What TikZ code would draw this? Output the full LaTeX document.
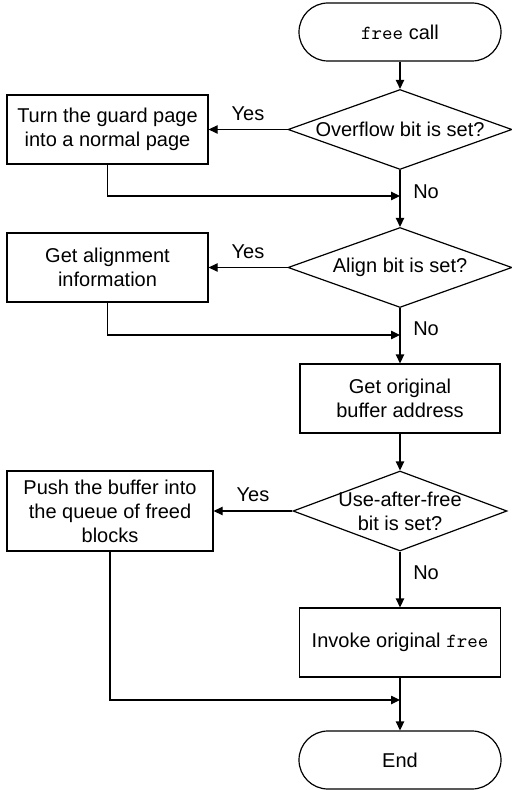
\documentclass[tikz,border=0pt]{standalone}
\usepackage{fontspec}
\setmainfont{Liberation Sans}
\usepackage{tikz}
\usetikzlibrary{arrows.meta,shapes.geometric}
\tikzstyle{terminal}=[rectangle,draw,rounded corners=14.5pt,minimum width=101pt,minimum height=29pt,inner sep=0pt]
\tikzstyle{process}=[rectangle,draw,align=center,inner sep=0pt]
\tikzstyle{decision}=[diamond,draw,minimum height=40pt,inner sep=0pt]
\tikzstyle{edge} = [draw,line width=0.6pt,-{Triangle[length=4.5pt,width=4.2pt]}]
\tikzstyle{weight} = [font=\fontsize{10}{12}\selectfont]

\begin{document}
\begin{tikzpicture}[x=0.5pt,y=-0.5pt,font=\fontsize{10}{12}\selectfont,line width=0.6pt]

  \useasboundingbox (0,0) rectangle (511,790);

   \foreach \x/\y/\name/\txt in {400/32/start/{\texttt{free} call}, 400/760/stop/End}
          \node[terminal] (\name) at (\x,\y) {\txt};

   \foreach \x/\y/\w/\h/\name/\txt in {107.5/129.5/100.5pt/34.5pt/guard/{Turn the guard page\\into a normal page},
                                      107.5/267.5/100.5pt/34.5pt/align/{Get alignment\\information},
                                      400/398.5/100pt/34.5pt/orig/{Get original\\buffer address},
                                      110/511/103pt/40pt/push/{Push the buffer into\\the queue of freed\\blocks},
                                      400/642.5/100.5pt/34.5pt/invoke/{Invoke original \texttt{free}}}
          \node[process,minimum width=\w,minimum height=\h] (\name) at (\x,\y) {\txt};

   \foreach \x/\y/\w/\name/\txt in {400/129.5/112pt/ovf/{Overflow bit is set?},
                                   400/267.5/112pt/alg/{Align bit is set?},
                                   400/511/107pt/uaf/{Use-after-free\\bit is set?}}
          \node[decision,minimum width=\w,label={[align=center]center:\txt}] (\name) at (\x,\y) {};

  % merge points on the main line
  \coordinate (m1) at (400,196);
  \coordinate (m2) at (400,335);
  \coordinate (m3) at (400,700);

  \foreach \source/ \dest in {start/ovf, orig/uaf, invoke/stop}
         \path[edge] (\source) -- (\dest);

  \foreach \source/ \dest in {ovf/guard, alg/align, uaf/push}
         \path[edge] (\source) -- node[weight,above=1pt] {Yes} (\dest);

  \foreach \source/ \dest in {ovf/alg, alg/orig, uaf/invoke}
         \path[edge] (\source) -- node[weight,pos=.38,right=3pt] {No} (\dest);

  \foreach \source/ \dest in {guard/m1, align/m2, push/m3}
         \path[edge] (\source.south) |- (\dest);

\end{tikzpicture}
\end{document}
